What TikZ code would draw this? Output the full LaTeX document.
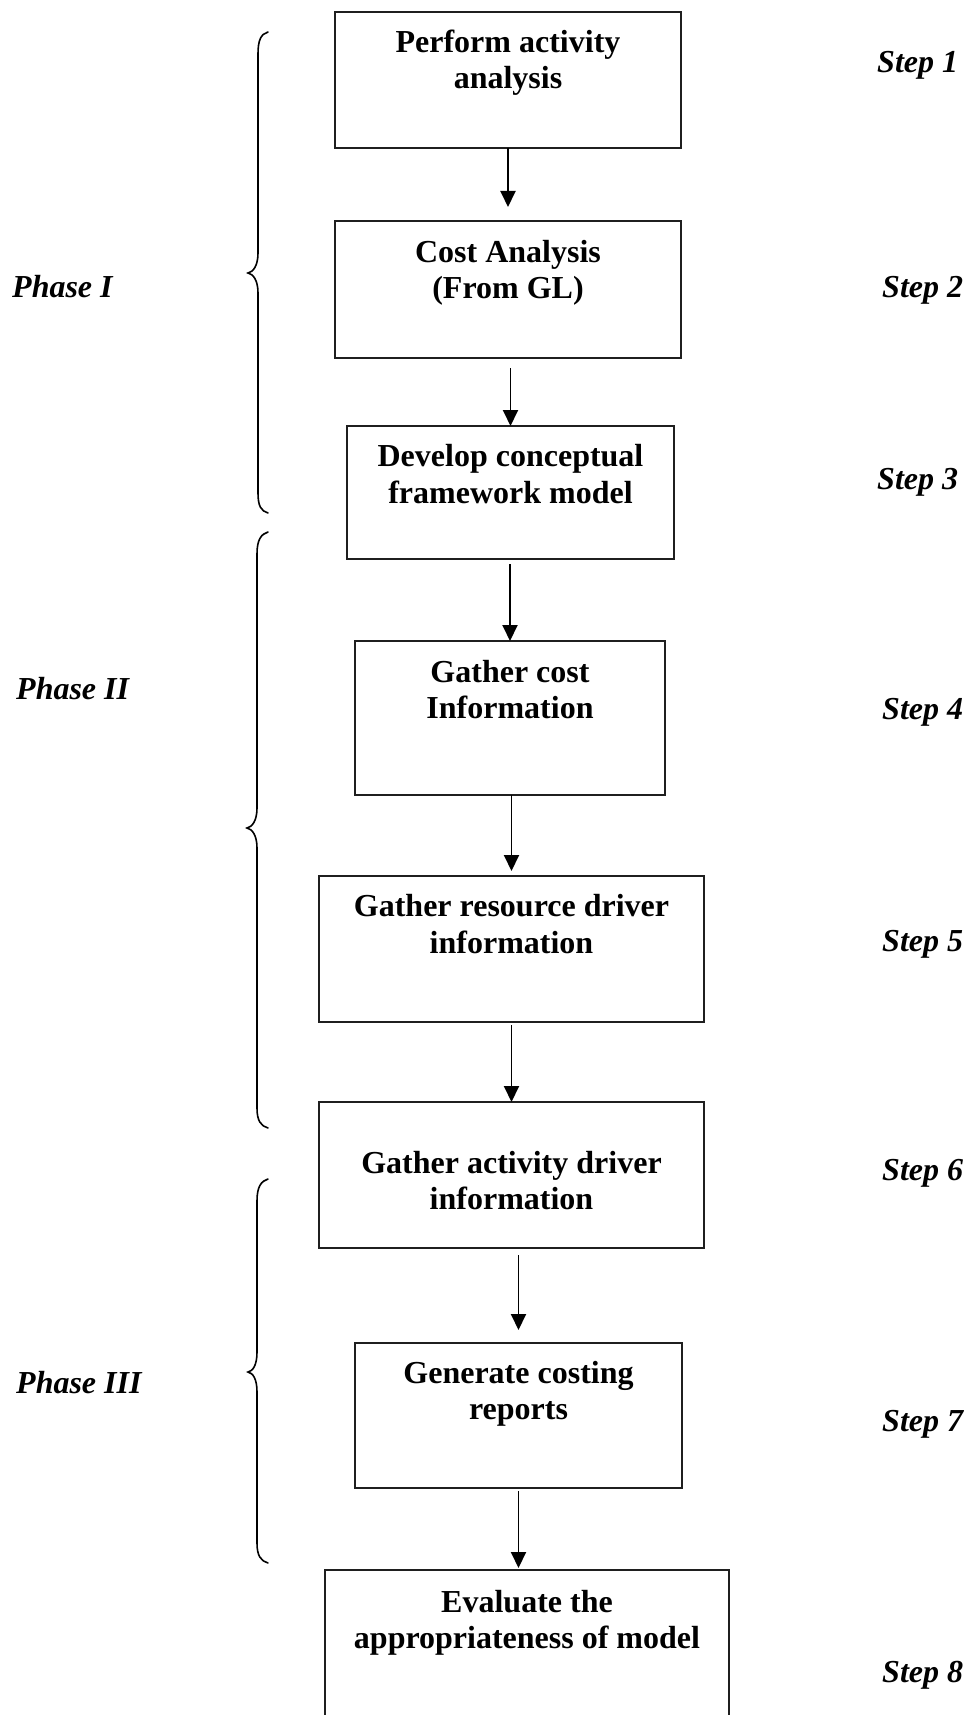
\documentclass[tikz,border=0pt]{standalone}
\usepackage{fontspec}
\setmainfont{Liberation Serif}
\usetikzlibrary{arrows.meta}
\begin{document}
\begin{tikzpicture}[x=1pt,y=-1pt,
  stepbox/.style={draw=black!88, line width=2.3pt, inner sep=0pt, outer sep=0pt, anchor=north west},
  boxtext/.style={anchor=base, inner sep=0pt, font=\bfseries\fontsize{32}{36}\selectfont},
  sidelbl/.style={anchor=base west, inner sep=0pt, font=\bfseries\itshape\fontsize{32}{36}\selectfont},
  arr/.style={line width=1.9pt, -{Triangle[length=16pt,width=15pt]}},
  bracepath/.style={line width=1.6pt, line cap=round}]
\useasboundingbox (0,0) rectangle (968,1715);
\clip (0,0) rectangle (968,1715);
\fill[white] (0,0) rectangle (968,1715);

% boxes
\node[stepbox, minimum width=346pt, minimum height=136pt] (b1) at (335,12) {};
\node[stepbox, minimum width=346pt, minimum height=137pt] (b2) at (335,221) {};
\node[stepbox, minimum width=327pt, minimum height=133pt] (b3) at (347,426) {};
\node[stepbox, minimum width=310pt, minimum height=154pt] (b4) at (355,641) {};
\node[stepbox, minimum width=385pt, minimum height=146pt] (b5) at (319,876) {};
\node[stepbox, minimum width=385pt, minimum height=146pt] (b6) at (319,1102) {};
\node[stepbox, minimum width=327pt, minimum height=145pt] (b7) at (355,1343) {};
\node[stepbox, minimum width=404pt, minimum height=200pt] (b8) at (325,1570) {};

% box texts
\node[boxtext] (t1a) at ([yshift=-41pt]b1.north) {Perform activity};
\node[boxtext] (t1b) at ([yshift=-77pt]b1.north) {analysis};
\node[boxtext] (t2a) at ([yshift=-41pt]b2.north) {Cost Analysis};
\node[boxtext] (t2b) at ([yshift=-77pt]b2.north) {(From GL)};
\node[boxtext] (t3a) at ([yshift=-40pt]b3.north) {Develop conceptual};
\node[boxtext] (t3b) at ([yshift=-77pt]b3.north) {framework model};
\node[boxtext] (t4a) at ([yshift=-41pt]b4.north) {Gather cost};
\node[boxtext] (t4b) at ([yshift=-77pt]b4.north) {Information};
\node[boxtext] (t5a) at ([yshift=-40pt]b5.north) {Gather resource driver};
\node[boxtext] (t5b) at ([yshift=-77pt]b5.north) {information};
\node[boxtext] (t6a) at ([yshift=-71pt]b6.north) {Gather activity driver};
\node[boxtext] (t6b) at ([yshift=-107pt]b6.north) {information};
\node[boxtext] (t7a) at ([yshift=-40pt]b7.north) {Generate costing};
\node[boxtext] (t7b) at ([yshift=-76pt]b7.north) {reports};
\node[boxtext] (t8a) at ([yshift=-42pt]b8.north) {Evaluate the};
\node[boxtext] (t8b) at ([yshift=-78pt]b8.north) {appropriateness of model};

% arrows
\draw[arr] (b1.south) -- ([yshift=14pt]b2.north);
\draw[arr] ([yshift=-10pt]b2.south -| b3.north) -- (b3.north);
\draw[arr] ([yshift=-5pt]b3.south -| b4.north) -- (b4.north);
\draw[arr] (b4.south -| b5.north) -- ([yshift=5pt]b5.north);
\draw[arr] ([yshift=-3pt]b5.south) -- (b6.north);
\draw[arr] ([yshift=-7pt]b6.south -| b7.north) -- ([yshift=13pt]b7.north);
\coordinate (a7end) at ([yshift=-3pt]b7.south);
\draw[arr] (a7end) -- ([yshift=2pt]a7end |- b8.north);

% step labels
\node[sidelbl] (s1) at (877,73) {Step 1};
\node[sidelbl] (s2) at (882,297) {Step 2};
\node[sidelbl] (s3) at (877,489) {Step 3};
\node[sidelbl] (s4) at (882,719) {Step 4};
\node[sidelbl] (s5) at (882,951) {Step 5};
\node[sidelbl] (s6) at (882,1180) {Step 6};
\node[sidelbl] (s7) at (882,1431) {Step 7};
\node[sidelbl] (s8) at (882,1682) {Step 8};

% phase labels
\node[sidelbl] (p1) at (12,297) {Phase I};
\node[sidelbl] (p2) at (16,699) {Phase II};
\node[sidelbl] (p3) at (16,1393) {Phase III};

% braces
\draw[bracepath] (268,32) .. controls (261,34) and (258,40) .. (258,54)
  -- (258,253) .. controls (258,266) and (253,272) .. (248,273)
  .. controls (253,274) and (258,280) .. (258,293)
  -- (258,493) .. controls (258,506) and (261,511) .. (268,513);
\draw[bracepath] (268,532) .. controls (261,534) and (257,540) .. (257,554)
  -- (257,808) .. controls (257,821) and (252,827) .. (247,828)
  .. controls (252,829) and (257,835) .. (257,848)
  -- (257,1108) .. controls (257,1121) and (261,1126) .. (268,1128);
\draw[bracepath] (268,1179) .. controls (261,1181) and (257,1187) .. (257,1201)
  -- (257,1352) .. controls (257,1365) and (253,1371) .. (248,1372)
  .. controls (253,1373) and (257,1379) .. (257,1392)
  -- (257,1543) .. controls (257,1556) and (261,1561) .. (268,1563);
\end{tikzpicture}
\end{document}
